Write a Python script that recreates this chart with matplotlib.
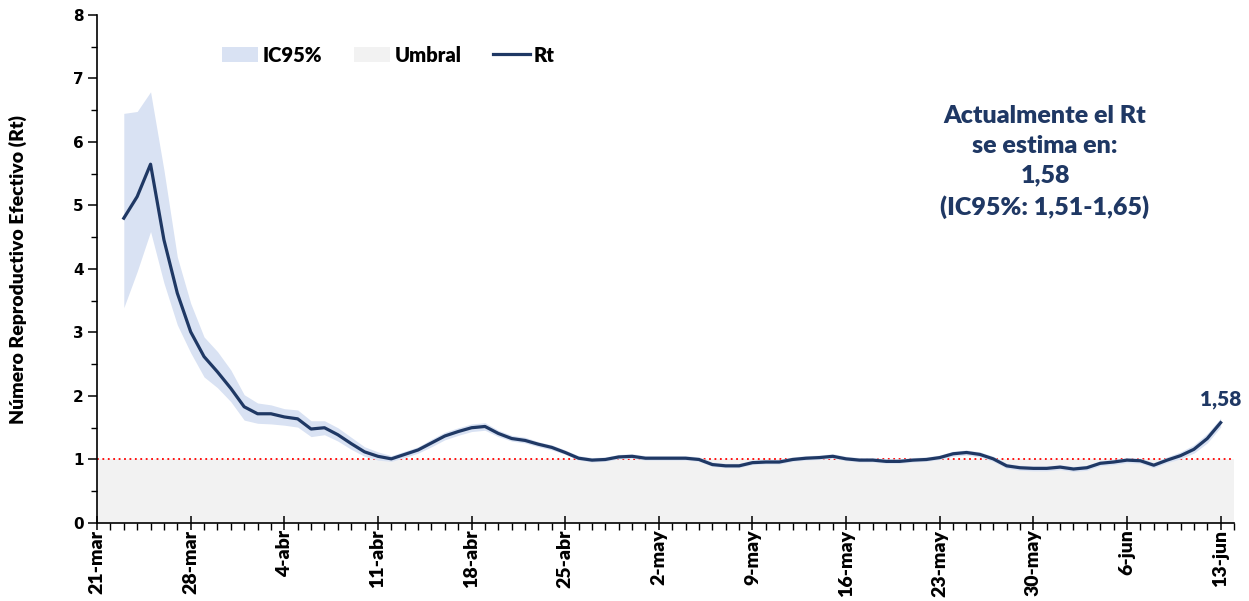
import numpy as np
import pandas as pd
import matplotlib
matplotlib.use("Agg")
import matplotlib.pyplot as plt
import matplotlib.dates as mdates
from matplotlib.patches import Patch
from matplotlib.lines import Line2D

plt.rcParams['font.family'] = ['Lato', 'DejaVu Sans']
plt.rcParams['font.weight'] = 'heavy'

# daily estimates, 23-mar .. 13-jun
dates = pd.date_range('2020-03-23', '2020-06-13', freq='D')

rt = [4.80, 5.14, 5.65, 4.46, 3.62, 3.01, 2.62, 2.38, 2.12,
      1.83, 1.72, 1.72, 1.67, 1.64, 1.48, 1.50, 1.39, 1.25, 1.12,
      1.05, 1.01, 1.08, 1.15, 1.26, 1.37, 1.44, 1.50, 1.52, 1.41,
      1.33, 1.30, 1.24, 1.19, 1.11, 1.02, 0.99, 1.00, 1.04, 1.05,
      1.02, 1.02, 1.02, 1.02, 1.00, 0.92, 0.90, 0.90, 0.95, 0.96,
      0.96, 1.00, 1.02, 1.03, 1.05, 1.01, 0.99, 0.99, 0.97, 0.97,
      0.99, 1.00, 1.03, 1.09, 1.11, 1.08, 1.01, 0.90, 0.87, 0.86,
      0.86,
      0.88, 0.85, 0.87, 0.94, 0.96, 0.99, 0.98, 0.91, 0.99, 1.06,
      1.16, 1.33, 1.58]

ic_low = [3.39, 3.96, 4.59, 3.78, 3.12, 2.68, 2.30, 2.13, 1.91,
          1.62, 1.57, 1.56, 1.54, 1.51, 1.36, 1.39, 1.29, 1.16, 1.05,
          0.99, 0.97, 1.03, 1.10, 1.20, 1.31, 1.38, 1.44, 1.46, 1.36,
          1.29, 1.26, 1.20, 1.15, 1.08, 0.99, 0.96, 0.97, 1.01, 1.02,
          0.99, 0.99, 0.99, 0.99, 0.97, 0.89, 0.87, 0.87, 0.92, 0.93,
          0.93, 0.97, 0.99, 1.00, 1.02, 0.98, 0.96, 0.96, 0.94, 0.94,
          0.96, 0.97, 1.00, 1.05, 1.07, 1.04, 0.97, 0.86, 0.83, 0.82,
          0.82,
          0.84, 0.81, 0.83, 0.90, 0.92, 0.95, 0.94, 0.87, 0.95, 1.01,
          1.10, 1.26, 1.51]

ic_high = [6.45, 6.48, 6.79, 5.56, 4.19, 3.46, 2.93, 2.70, 2.41,
           2.02, 1.89, 1.86, 1.80, 1.78, 1.61, 1.61, 1.50, 1.35, 1.20,
           1.12, 1.06, 1.13, 1.20, 1.32, 1.43, 1.50, 1.56, 1.58, 1.46,
           1.38, 1.35, 1.28, 1.23, 1.15, 1.06, 1.03, 1.04, 1.08, 1.09,
           1.06, 1.06, 1.06, 1.06, 1.04, 0.96, 0.94, 0.94, 0.99, 1.00,
           1.00, 1.04, 1.06, 1.07, 1.09, 1.05, 1.03, 1.03, 1.01, 1.01,
           1.03, 1.04, 1.07, 1.13, 1.15, 1.12, 1.05, 0.94, 0.91, 0.90,
           0.90,
           0.92, 0.89, 0.91, 0.98, 1.00, 1.03, 1.02, 0.95, 1.04, 1.12,
           1.23, 1.41, 1.65]

umbral = 1.0
meses = {3: 'mar', 4: 'abr', 5: 'may', 6: 'jun'}

navy = '#1F3864'
band = '#D9E2F3'
grey = '#F2F2F2'
W = 'heavy'

fig = plt.figure(figsize=(12.49, 6.01), dpi=100)
ax = fig.add_axes([0.0777, 0.1298, 0.9103, 0.8453])

x0 = pd.Timestamp('2020-03-21')
x1 = pd.Timestamp('2020-06-14')

ax.axhspan(0, umbral, color=grey, zorder=0, lw=0)
ax.axhline(umbral, color='red', ls=(0, (1, 2)), lw=1.3, zorder=1)
ax.fill_between(dates, ic_low, ic_high, color=band, lw=0, zorder=2)
ax.plot(dates, rt, color=navy, lw=2.3, zorder=3, solid_joinstyle='round')

ult = f"{rt[-1]:.2f}".replace('.', ',')
ax.annotate(ult, (dates[-1], rt[-1]), xytext=(0, 17), textcoords='offset points',
            ha='center', va='center', fontsize=15, color=navy, fontweight=W)

lo = f"{ic_low[-1]:.2f}".replace('.', ',')
hi = f"{ic_high[-1]:.2f}".replace('.', ',')
fig.text(1045 / 1249, 1 - 162 / 601,
         f"Actualmente el Rt\nse estima en:\n{ult}\n(IC95%: {lo}-{hi})",
         ha='center', va='center', fontsize=18, color=navy,
         fontweight=W, linespacing=1.42)

ax.set_xlim(x0, x1)
ax.set_ylim(0, 8)

ticks = pd.date_range(x0, x1, freq='7D')
ax.set_xticks(ticks)
ax.set_xticklabels([f"{d.day}-{meses[d.month]}" for d in ticks],
                   rotation=90, fontsize=14, fontweight=W)
ax.xaxis.set_minor_locator(mdates.DayLocator())
ax.tick_params(axis='x', which='major', direction='inout', length=9.5, width=1.1, pad=0)
ax.tick_params(axis='x', which='minor', direction='out', length=4.8, width=1.0)

ax.set_yticks(range(0, 9))
ax.set_yticks(np.arange(0.5, 8, 1), minor=True)
ax.set_yticklabels([str(v) for v in range(0, 9)], fontsize=11,
                   fontweight='bold', family='DejaVu Sans')
ax.tick_params(axis='y', which='major', direction='out', length=6.5, width=1.1, pad=3)
ax.tick_params(axis='y', which='minor', direction='out', length=4.5, width=1.0)

for s in ['top', 'right']:
    ax.spines[s].set_visible(False)
for s in ['left', 'bottom']:
    ax.spines[s].set_linewidth(1.2)

fig.text(18 / 1249, 1 - 270 / 601, 'Número Reproductivo Efectivo (Rt)',
         rotation=90, ha='center', va='center', fontsize=14, fontweight=W)

handles = [Patch(facecolor=band, edgecolor='none'),
           Patch(facecolor=grey, edgecolor='none'),
           Line2D([], [], color=navy, lw=2.3)]
fig.legend(handles, ['IC95%', 'Umbral', 'Rt'], loc='center left',
           bbox_to_anchor=(222 / 1249, 1 - 55 / 601), ncol=3, frameon=False,
           handlelength=1.8, handleheight=0.7, handletextpad=0.2,
           columnspacing=1.6, borderpad=0, borderaxespad=0,
           prop={'weight': W, 'size': 14.5})

fig.savefig('out.png', dpi=100)
